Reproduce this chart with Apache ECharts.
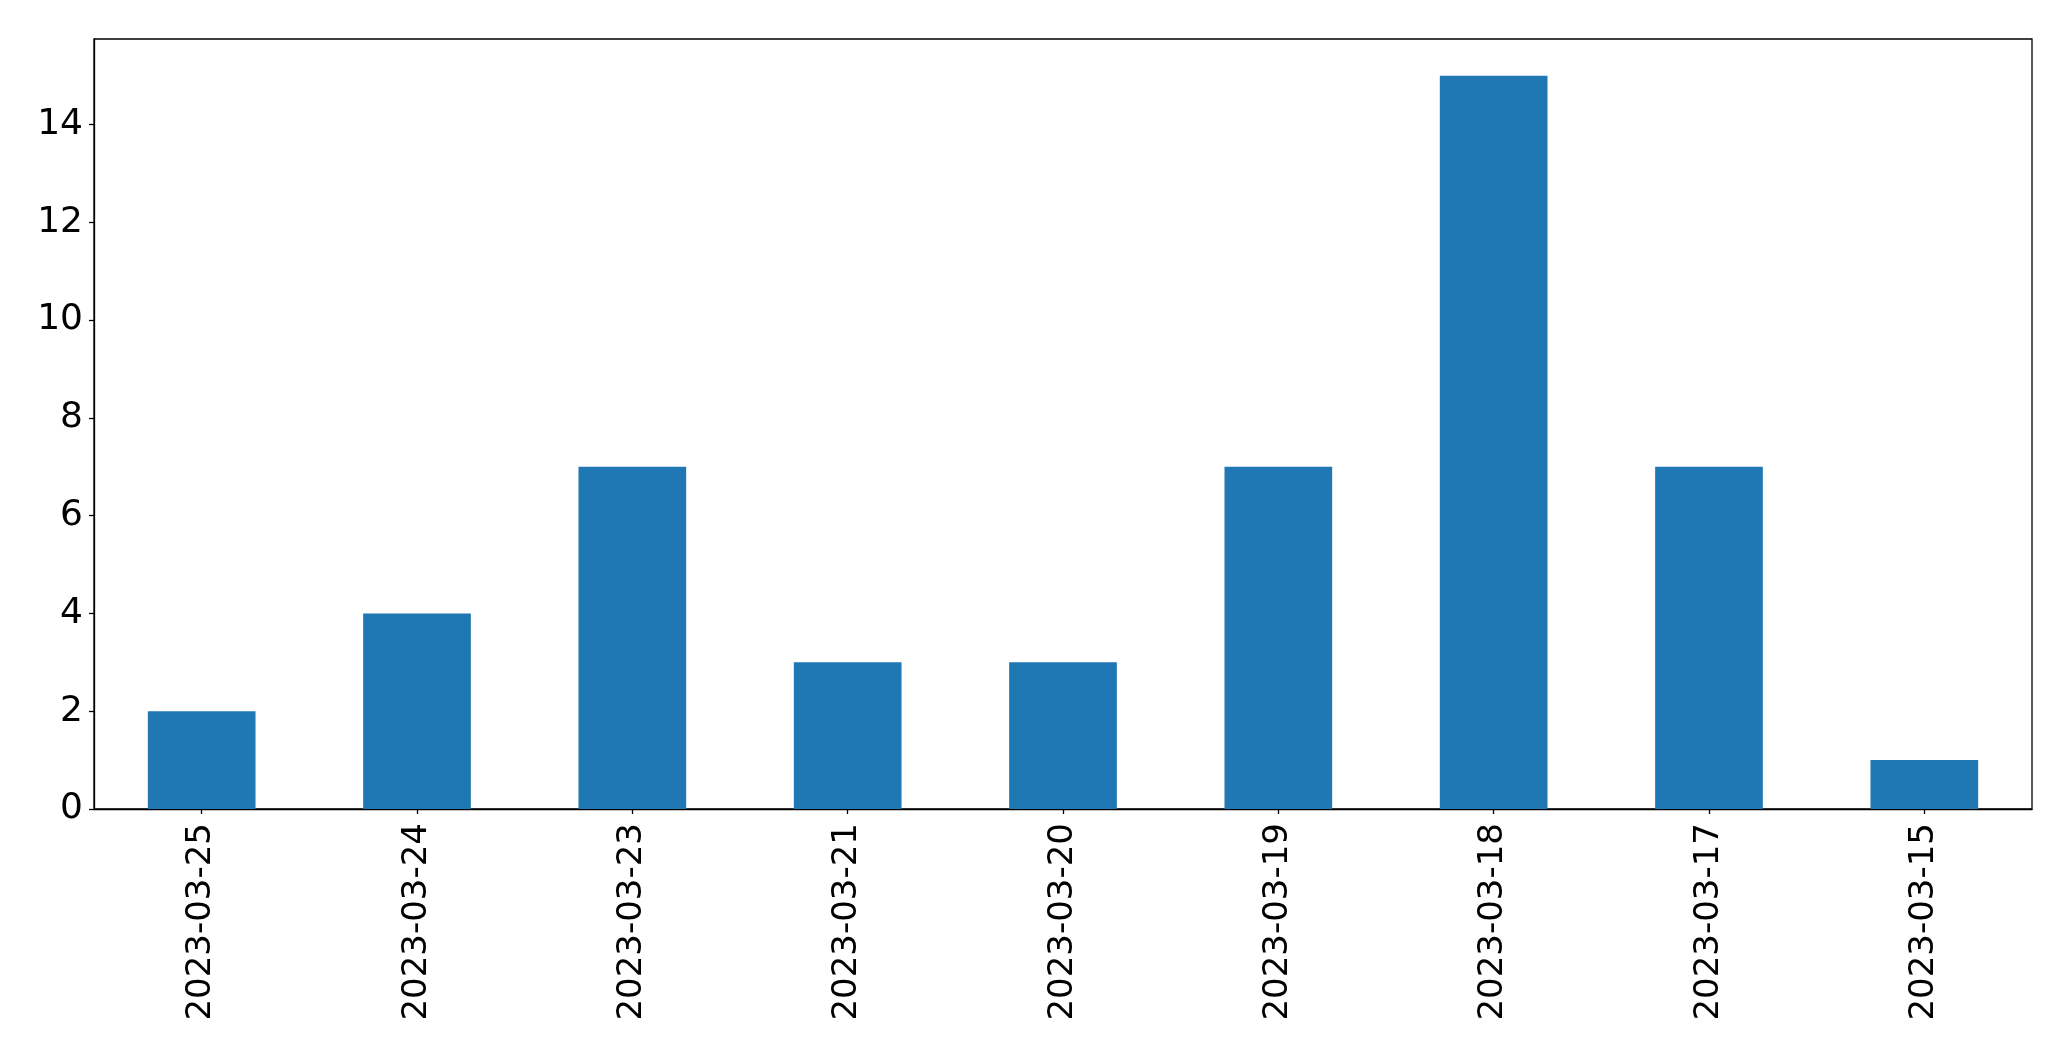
<!DOCTYPE html>
<html>
<head>
<meta charset="utf-8">
<script src="https://cdn.jsdelivr.net/npm/echarts@6/dist/echarts.min.js"></script>
<style>
html,body{margin:0;padding:0;background:#fff;}
#chart{width:2071px;height:1061px;}
</style>
</head>
<body>
<div id="chart"></div>
<script>
const categories = ['2023-03-25','2023-03-24','2023-03-23','2023-03-21','2023-03-20','2023-03-19','2023-03-18','2023-03-17','2023-03-15'];
const values = [2, 4, 7, 3, 3, 7, 15, 7, 1];
const yTicks = [0, 2, 4, 6, 8, 10, 12, 14];

const chart = echarts.init(document.getElementById('chart'), null, {renderer: 'canvas'});
const font = 'DejaVu Sans';
chart.setOption({
  animation: false,
  grid: {
    left: 94, top: 39, right: 39, bottom: 252,
    show: true, borderColor: '#000', borderWidth: 1.3, backgroundColor: 'transparent'
  },
  xAxis: {
    type: 'category',
    data: categories,
    boundaryGap: true,
    axisLine: {show: true, lineStyle: {color: '#000', width: 1.3}},
    axisTick: {show: true, alignWithLabel: true, length: 5, lineStyle: {color: '#000', width: 1.3}},
    axisLabel: {rotate: 90, margin: 14, color: '#000', fontSize: 34, fontFamily: font, interval: 0},
    splitLine: {show: false}
  },
  yAxis: {
    type: 'value',
    min: 0, max: 15.75, interval: 2,
    axisLine: {show: true, lineStyle: {color: '#000', width: 1.3}},
    axisTick: {show: true, length: 5, lineStyle: {color: '#000', width: 1.3}, customValues: yTicks},
    axisLabel: {color: '#000', fontSize: 36, fontFamily: font, margin: 11, customValues: yTicks},
    splitLine: {show: false}
  },
  series: [{
    type: 'bar',
    data: values,
    barWidth: '50%',
    itemStyle: {color: '#1f77b4'}
  }]
});
</script>
</body>
</html>
